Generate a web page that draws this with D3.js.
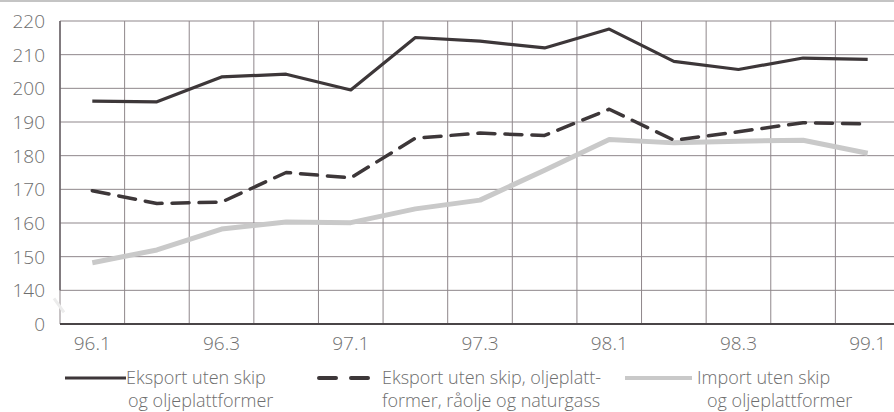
<!DOCTYPE html>
<html lang="no">
    <head>
        <meta charset="utf-8">
        <title>Eksport og import</title>
        <script src="https://d3js.org/d3.v7.min.js"></script>
        <style type="text/css">
            body { margin: 0; background: #fff; }
            text { font-family: "Open Sans", sans-serif; font-weight: 300; fill: #6e6e6e; }
        </style>
    </head>
    <body>
        <script>
            // data
            var quarters = ["96.1","96.2","96.3","96.4","97.1","97.2","97.3","97.4",
                            "98.1","98.2","98.3","98.4","99.1"];
            var tickQuarters = ["96.1","96.3","97.1","97.3","98.1","98.3","99.1"];
            var eksport = [196.2, 196, 203.4, 204.2, 199.5, 215.1, 214, 212, 217.6, 208, 205.6, 209, 208.6];
            var eksportUtenOlje = [169.6, 165.8, 166.2, 175, 173.4, 185.2, 186.7, 186, 193.8, 184.6, 187.1, 189.8, 189.4];
            var importSerie = [148.2, 152, 158.2, 160.3, 160.1, 164.2, 166.8, 175.7, 184.8, 183.8, 184.3, 184.6, 180.7];
            var yTicks = [140, 150, 160, 170, 180, 190, 200, 210, 220];
            var yBase = 130;   // broken axis: bottom line is labelled "0"

            // configuration
            var outerWidth = 894;
            var outerHeight = 412;
            var plotLeft = 60, plotRight = 900, plotTop = 21, plotBottom = 324;

            var svg = d3.select("body").append("svg")
                .attr("width", outerWidth)
                .attr("height", outerHeight);

            var xScale = d3.scaleBand().domain(quarters).range([plotLeft, plotRight]).padding(0);
            var yScale = d3.scaleLinear().domain([yBase, 220]).range([plotBottom, plotTop]);
            var cx = function (q) { return xScale(q) + xScale.bandwidth() / 2; };

            // top border
            svg.append("line")
                .attr("x1", 0).attr("x2", outerWidth).attr("y1", 1).attr("y2", 1)
                .attr("stroke", "#c4c4c4").attr("stroke-width", 2);

            // vertical grid
            svg.selectAll(".vgrid").data(quarters.concat(["end"])).enter().append("line")
                .attr("class", "vgrid")
                .attr("x1", function (d, i) { return plotLeft + i * xScale.bandwidth(); })
                .attr("x2", function (d, i) { return plotLeft + i * xScale.bandwidth(); })
                .attr("y1", plotTop).attr("y2", plotBottom)
                .attr("stroke", "#8f878b").attr("stroke-width", 1);

            // horizontal grid
            svg.selectAll(".hgrid").data(yTicks).enter().append("line")
                .attr("class", "hgrid")
                .attr("x1", plotLeft).attr("x2", outerWidth)
                .attr("y1", function (d) { return yScale(d); })
                .attr("y2", function (d) { return yScale(d); })
                .attr("stroke", "#8f878b").attr("stroke-width", 1);

            // left axis line (stops at the break)
            svg.append("line")
                .attr("x1", plotLeft).attr("x2", plotLeft)
                .attr("y1", plotTop).attr("y2", yScale(140))
                .attr("stroke", "#6a6367").attr("stroke-width", 1.5);

            // axis break mark
            svg.append("path")
                .attr("d", "M" + (plotLeft - 6) + "," + (yScale(140) + 8) + "l10,14")
                .attr("stroke", "#ececec").attr("stroke-width", 3).attr("fill", "none");

            // bottom axis
            svg.append("line")
                .attr("x1", plotLeft).attr("x2", outerWidth)
                .attr("y1", plotBottom).attr("y2", plotBottom)
                .attr("stroke", "#4a4547").attr("stroke-width", 2);

            // y labels
            svg.selectAll(".ylab").data([yBase].concat(yTicks)).enter().append("text")
                .attr("class", "ylab")
                .attr("x", 45)
                .attr("y", function (d) { return yScale(d) + 7; })
                .attr("text-anchor", "end")
                .style("font-size", "19px")
                .text(function (d) { return d === yBase ? "0" : d; });

            // x labels
            svg.selectAll(".xlab").data(tickQuarters).enter().append("text")
                .attr("class", "xlab")
                .attr("x", function (d) { return cx(d); })
                .attr("y", 350)
                .attr("text-anchor", "middle")
                .style("font-size", "19px")
                .text(function (d) { return d; });

            var line = d3.line()
                .x(function (d, i) { return cx(quarters[i]); })
                .y(function (d) { return yScale(d); });

            svg.append("path").datum(importSerie)
                .attr("d", line).attr("fill", "none")
                .attr("stroke", "#c9c9c9").attr("stroke-width", 5)
                .attr("stroke-linejoin", "round");

            svg.append("path").datum(eksportUtenOlje)
                .attr("d", line).attr("fill", "none")
                .attr("stroke", "#3d3739").attr("stroke-width", 3.5)
                .attr("stroke-dasharray", "17,10").attr("stroke-linecap", "round")
                .attr("stroke-linejoin", "round");

            svg.append("path").datum(eksport)
                .attr("d", line).attr("fill", "none")
                .attr("stroke", "#3d3739").attr("stroke-width", 3.2)
                .attr("stroke-linejoin", "round");

            // legend
            var legend = [
                { x1: 65, x2: 126, tx: 126, dash: null, color: "#3d3739", w: 3,
                  lines: ["Eksport uten skip", "og oljeplattformer"], dx2: 2 },
                { x1: 319, x2: 378, tx: 382, dash: "17,15", color: "#3d3739", w: 4,
                  lines: ["Eksport uten skip, oljeplatt-", "former, råolje og naturgass"], dx2: 0 },
                { x1: 625, x2: 692, tx: 697, dash: null, color: "#c9c9c9", w: 4,
                  lines: ["Import uten skip", "og oljeplattformer"], dx2: 10 }
            ];
            legend.forEach(function (l) {
                svg.append("line")
                    .attr("x1", l.x1).attr("x2", l.x2).attr("y1", 378).attr("y2", 378)
                    .attr("stroke", l.color).attr("stroke-width", l.w)
                    .attr("stroke-dasharray", l.dash)
                    .attr("stroke-linecap", l.dash ? "round" : "butt");
                svg.append("text").attr("x", l.tx).attr("y", 384)
                    .style("font-size", "18px").text(l.lines[0]);
                svg.append("text").attr("x", l.tx + l.dx2).attr("y", 407)
                    .style("font-size", "18px").text(l.lines[1]);
            });
        </script>
    </body>
</html>
